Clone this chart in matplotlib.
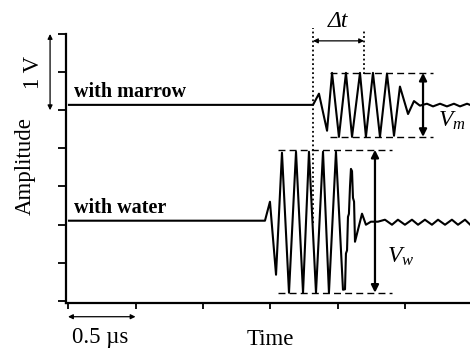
import numpy as np
import matplotlib
matplotlib.use('Agg')
import matplotlib.pyplot as plt

plt.rcParams['font.family'] = ['Liberation Serif', 'DejaVu Serif']
plt.rcParams['mathtext.fontset'] = 'custom'
plt.rcParams['mathtext.it'] = 'Liberation Serif:italic'
plt.rcParams['mathtext.rm'] = 'Liberation Serif'

# waveform: time in us, amplitude in V
t_marrow = [0.007, 1.815, 1.859, 1.919, 1.956, 2.007, 2.059, 2.104, 2.163, 2.207,
            2.259, 2.311, 2.363, 2.415, 2.459, 2.519, 2.563, 2.607, 2.659, 2.704,
            2.756, 2.807, 2.859, 2.904, 2.956, 2.978]
v_marrow = [2.57, 2.57, 2.717, 2.231, 2.99, 2.15, 2.99, 2.15, 2.99, 2.15,
            2.99, 2.15, 2.98, 2.165, 2.81, 2.45, 2.62, 2.56, 2.585, 2.55,
            2.585, 2.55, 2.585, 2.55, 2.585, 2.57]

t_water = [0.007, 1.459, 1.496, 1.541, 1.585, 1.637, 1.689, 1.741, 1.785, 1.837,
           1.889, 1.933, 1.985, 2.037, 2.052, 2.059, 2.067, 2.074, 2.081, 2.089,
           2.096, 2.104, 2.111, 2.119, 2.126, 2.178, 2.207, 2.244, 2.296, 2.348,
           2.400, 2.444, 2.496, 2.548, 2.593, 2.644, 2.696, 2.741, 2.793, 2.844,
           2.889, 2.941, 2.978]
v_water = [1.05, 1.05, 1.299, 0.341, 1.942, 0.105, 1.955, 0.105, 1.955, 0.105,
           1.955, 0.105, 1.955, 0.144, 0.15, 0.62, 0.66, 1.10, 1.14, 1.50,
           1.73, 1.70, 1.35, 1.30, 0.774, 1.142, 0.997, 1.037, 1.037, 1.063,
           0.997, 1.063, 0.997, 1.063, 0.997, 1.063, 0.997, 1.063, 0.997, 1.063,
           0.997, 1.063, 1.00]

# envelope / marker positions
marrow_top, marrow_bot = 2.99, 2.15
water_top, water_bot = 1.98, 0.105
t_start, t_end = 1.815, 2.193

fig = plt.figure(figsize=(4.7, 3.49), dpi=100)
ax = fig.add_axes([66 / 470, 46 / 349, 404 / 470, 269 / 349])

ax.plot(t_marrow, v_marrow, color='black', lw=1.5, solid_joinstyle='round')
ax.plot(t_water, v_water, color='black', lw=1.5, solid_joinstyle='round')

ax.set_xlim(-0.015, 2.978)
ax.set_ylim(-0.03, 3.5)
ax.set_xticks(np.arange(0, 2.6, 0.5))
ax.set_yticks(np.arange(0, 3.6, 0.5))
ax.set_xticklabels([])
ax.set_yticklabels([])
ax.tick_params(axis='y', direction='out', length=5.8, width=1.3)
ax.tick_params(axis='x', direction='out', length=4, width=1.3)
for s in ['top', 'right']:
    ax.spines[s].set_visible(False)
for s in ['left', 'bottom']:
    ax.spines[s].set_linewidth(1.6)

dash = dict(color='black', lw=1.0, linestyle=(0, (5, 3)))
ax.plot([1.941, 2.704], [marrow_top, marrow_top], **dash)
ax.plot([1.941, 2.704], [marrow_bot, marrow_bot], **dash)
ax.plot([1.556, 2.40], [water_top, water_top], **dash)
ax.plot([1.556, 2.40], [water_bot, water_bot], **dash)

dot = dict(color='black', lw=1.3, linestyle=(0, (1, 1.5)))
ax.plot([t_start, t_start], [1.02, 3.58], clip_on=False, **dot)
ax.plot([t_end, t_end], [2.97, 3.56], clip_on=False, **dot)

big = dict(arrowstyle='<|-|>', color='black', lw=1.6, mutation_scale=11, shrinkA=0, shrinkB=0)
small = dict(arrowstyle='<|-|>', color='black', lw=0.9, mutation_scale=7, shrinkA=0, shrinkB=0)
ax.annotate('', xy=(2.63, marrow_top), xytext=(2.63, marrow_bot), arrowprops=big)
ax.annotate('', xy=(2.274, water_top), xytext=(2.274, water_bot), arrowprops=big)
ax.annotate('', xy=(t_start, 3.41), xytext=(t_end, 3.41), arrowprops=small, annotation_clip=False)
ax.annotate('', xy=(-0.133, 3.5), xytext=(-0.133, 2.5), arrowprops=small, annotation_clip=False)
ax.annotate('', xy=(0.0, -0.21), xytext=(0.5, -0.21), arrowprops=small, annotation_clip=False)

ax.text(0.044, 2.677, 'with marrow', fontsize=14.5, fontweight='bold', va='baseline')
ax.text(0.044, 1.155, 'with water', fontsize=14.5, fontweight='bold', va='baseline')
ax.text(2.0, 3.66, '\u0394t', fontsize=17, style='italic', ha='center', va='center', clip_on=False)
ax.text(2.741, 2.36, r'$V_m$', fontsize=17, ha='left', va='center')
ax.text(2.363, 0.577, r'$V_w$', fontsize=17, ha='left', va='center')

ax.text(-0.259, 3.0, '1 V', fontsize=16.5, rotation=90, ha='center', va='center', clip_on=False)
ax.text(-0.319, 1.77, 'Amplitude', fontsize=16.5, rotation=90, ha='center', va='center', clip_on=False)
ax.text(0.237, -0.486, '0.5 \u00b5s', fontsize=16.5, ha='center', va='center', clip_on=False)
ax.text(1.496, -0.512, 'Time', fontsize=16.5, ha='center', va='center', clip_on=False)

fig.savefig('out.png', dpi=100)
